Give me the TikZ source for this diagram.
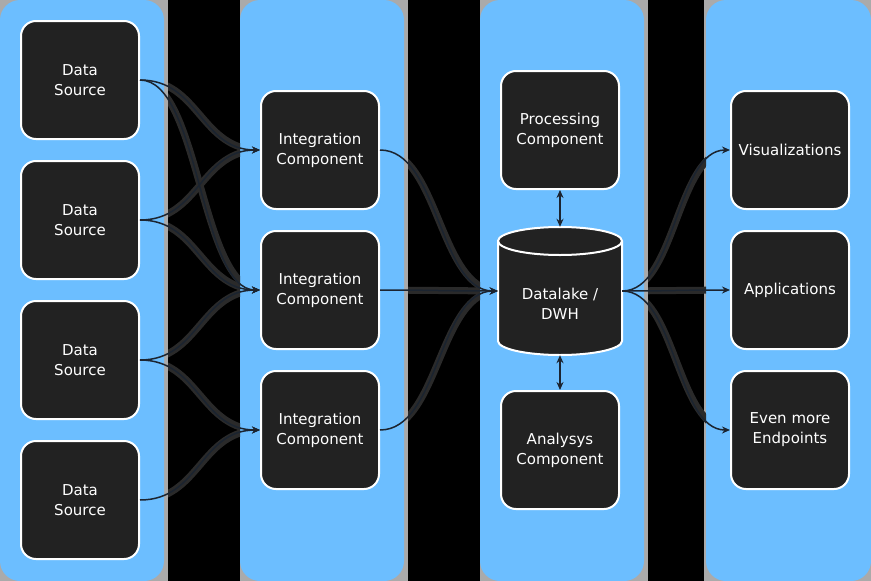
\documentclass[tikz,border=0pt]{standalone}
\usepackage{fontspec}
\setmainfont{DejaVu Sans}
\usetikzlibrary{arrows.meta}
\definecolor{colblue}{HTML}{6CBEFF}
\definecolor{boxfill}{HTML}{222222}
\definecolor{edgegray}{HTML}{AAAAAA}
\definecolor{halo}{HTML}{2A2A2A}
\definecolor{linec}{HTML}{1B2430}
\begin{document}
\begin{tikzpicture}[x=1pt,y=-1pt,
  column/.style={fill=colblue, rounded corners=20pt},
  box/.style={draw=white, line width=2pt, fill=boxfill, rounded corners=15pt,
    minimum width=118pt, minimum height=118pt, text=white, align=center,
    font=\fontsize{15}{20}\selectfont, inner sep=0pt},
  lbl/.style={text=white, align=center, font=\fontsize{15}{20}\selectfont, inner sep=0pt},
  conn/.style={draw=linec, line width=1.5pt, -{Stealth[length=8pt,width=7pt]}},
  both/.style={draw=linec, line width=1.5pt, {Stealth[length=8pt,width=7pt]}-{Stealth[length=8pt,width=7pt]}},
  haloline/.style={draw=halo, line width=7pt},
]
\useasboundingbox (0,0) rectangle (871,581);
% background
\fill[edgegray] (0,0) rectangle (871,581);
\fill[black] (168,0) rectangle (240,581);
\fill[black] (408,0) rectangle (480,581);
\fill[black] (648,0) rectangle (704,581);
% columns
\fill[column] (0,0) rectangle (164,581);
\fill[column] (240,0) rectangle (404,581);
\fill[column] (480,0) rectangle (644,581);
\fill[column] (706,0) rectangle (871,581);

% column 1
\node[box] (ds1) at (80,80) {Data\\Source};
\node[box] (ds2) at (80,220) {Data\\Source};
\node[box] (ds3) at (80,360) {Data\\Source};
\node[box] (ds4) at (80,500) {Data\\Source};
% column 2
\node[box] (ic1) at (320,150) {Integration\\Component};
\node[box] (ic2) at (320,290) {Integration\\Component};
\node[box] (ic3) at (320,430) {Integration\\Component};
% column 3
\node[box] (proc) at (560,130) {Processing\\Component};
\node[box] (ana) at (560,450) {Analysys\\Component};
\path[fill=boxfill, draw=white, line width=2pt]
  (498,241) -- (498,341) arc[start angle=180, end angle=360, x radius=62pt, y radius=14pt]
  -- (622,241) arc[start angle=0, end angle=180, x radius=62pt, y radius=14pt] -- cycle;
\draw[white, line width=2pt] (498,241) arc[start angle=180, end angle=360, x radius=62pt, y radius=14pt];
\node[minimum width=124pt, minimum height=128pt, inner sep=0pt] (dwh) at (560,291) {};
\node[lbl] (dwhlabel) at (560,304) {Datalake /\\DWH};
% column 4
\node[box] (vis) at (790,150) {Visualizations};
\node[box] (app) at (790,290) {Applications};
\node[box] (eme) at (790,430) {Even more\\Endpoints};

% halos in the dark gaps
\begin{scope}
\clip (168,0) rectangle (240,581) (408,0) rectangle (480,581) (648,0) rectangle (706,581);
\foreach \a/\b/\d in {ds1/ic1/60, ds1/ic2/60, ds2/ic1/60, ds2/ic2/60, ds3/ic2/60, ds3/ic3/60, ds4/ic3/60,
  ic1/dwh/59, ic2/dwh/59, ic3/dwh/59, dwh/vis/54, dwh/app/54, dwh/eme/54}
  {\draw[haloline] (\a.east) .. controls +(\d,0) and +(-\d,0) .. (\b.west);}
\end{scope}
% connectors
\foreach \a/\b/\d in {ds1/ic1/60, ds1/ic2/60, ds2/ic1/60, ds2/ic2/60, ds3/ic2/60, ds3/ic3/60, ds4/ic3/60,
  ic1/dwh/59, ic2/dwh/59, ic3/dwh/59, dwh/vis/54, dwh/app/54, dwh/eme/54}
  {\draw[conn] (\a.east) .. controls +(\d,0) and +(-\d,0) .. (\b.west);}
\draw[both] (proc.south) -- (dwh.north);
\draw[both] (dwh.south) -- (ana.north);
\end{tikzpicture}
\end{document}
